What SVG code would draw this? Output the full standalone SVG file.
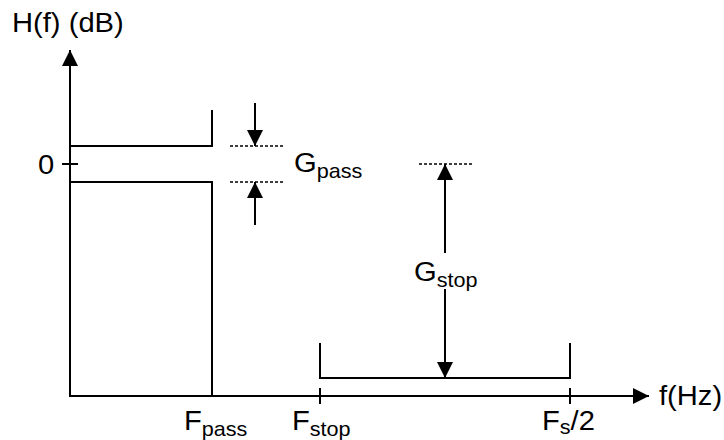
<svg xmlns="http://www.w3.org/2000/svg" width="724" height="440" viewBox="0 0 724 440">
<style>
.ln{stroke:#000;stroke-width:2;fill:none}
.dot{stroke:#000;stroke-width:1.5;stroke-dasharray:3 2;fill:none}
.t{font-family:"Liberation Sans",Arial,sans-serif;font-size:27px;fill:#000}
.s{font-size:20px}
</style>
<defs>
<marker id="ah" markerUnits="userSpaceOnUse" markerWidth="16" markerHeight="16" viewBox="0 0 16 16" refX="16" refY="8" orient="auto">
<path d="M0,0 L16,8 L0,16 Z" fill="#000"/>
</marker>
</defs>
<rect width="724" height="440" fill="#fff"/>
<g id="axes">
<line class="ln" x1="70" y1="397" x2="70" y2="50" marker-end="url(#ah)"/>
<line class="ln" x1="69" y1="396" x2="649" y2="396" marker-end="url(#ah)"/>
<line class="ln" x1="62" y1="164" x2="78" y2="164"/>
<line class="ln" x1="320" y1="388" x2="320" y2="404"/>
<line class="ln" x1="570" y1="388" x2="570" y2="404"/>
</g>
<g id="passband">
<polyline class="ln" points="70,146 212,146 212,110"/>
<polyline class="ln" points="70,182 212,182 212,396"/>
</g>
<g id="stopband">
<polyline class="ln" points="320,343 320,378 570,378 570,343"/>
</g>
<g id="connectors">
<line class="dot" x1="230" y1="146" x2="283" y2="146"/>
<line class="dot" x1="230" y1="182" x2="283" y2="182"/>
<line class="dot" x1="419" y1="164" x2="472" y2="164"/>
<line class="ln" x1="255" y1="103" x2="255" y2="146" marker-end="url(#ah)"/>
<line class="ln" x1="255" y1="225" x2="255" y2="182" marker-end="url(#ah)"/>
<line class="ln" x1="445" y1="253" x2="445" y2="164" marker-end="url(#ah)"/>
<line class="ln" x1="445" y1="289" x2="445" y2="378" marker-end="url(#ah)"/>
</g>
<g id="labels" class="t">
<text transform="translate(12,32) scale(1.08,1)">H(f) (dB)</text>
<text transform="translate(38,174) scale(1.08,1)">0</text>
<text transform="translate(294,172) scale(1.08,1)">G<tspan class="s" dy="6">pass</tspan></text>
<text transform="translate(414,281) scale(1.08,1)">G<tspan class="s" dy="6">stop</tspan></text>
<text transform="translate(184,430) scale(1.08,1)">F<tspan class="s" dy="6">pass</tspan></text>
<text transform="translate(292,430) scale(1.08,1)">F<tspan class="s" dy="6">stop</tspan></text>
<text transform="translate(542,430) scale(1.08,1)">F<tspan class="s" dy="4">s</tspan><tspan dy="-4">/2</tspan></text>
<text transform="translate(659,405) scale(1.08,1)">f(Hz)</text>
</g>
</svg>
